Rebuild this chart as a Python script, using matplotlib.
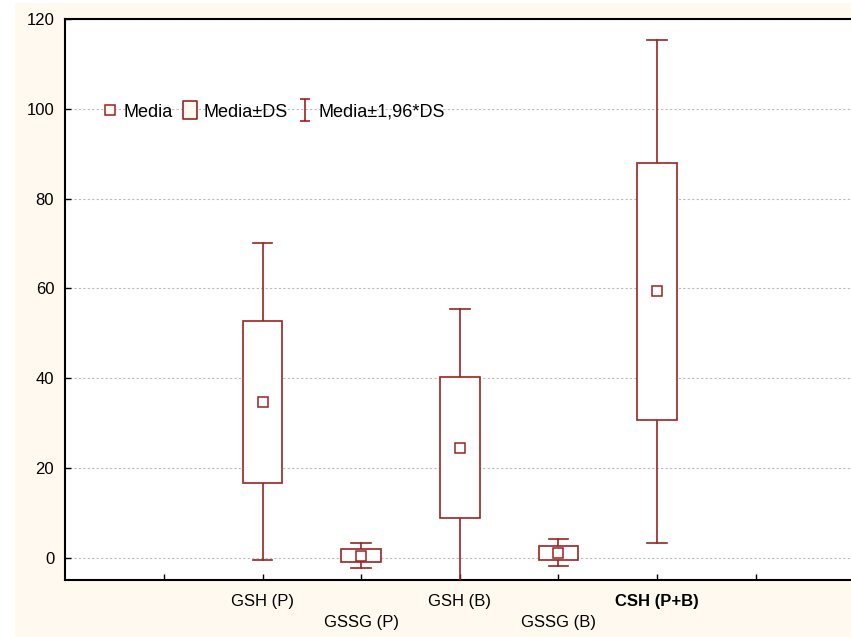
import numpy as np
import matplotlib.pyplot as plt
from matplotlib.path import Path
from matplotlib.lines import Line2D
from matplotlib.patches import Rectangle

plt.rcParams['font.family'] = ['Liberation Sans', 'DejaVu Sans']

# data (mean and standard deviation)
groups = ["GSH (P)", "GSSG (P)", "GSH (B)", "GSSG (B)", "CSH (P+B)"]
means = [34.7, 0.4, 24.5, 1.1, 59.3]
sds = [18.0, 1.4, 15.7, 1.55, 28.6]

red = "#9a2222"
cream = "#fff9ef"

fig = plt.figure(figsize=(8.51, 6.37), dpi=100, facecolor=cream)
# white strip on the left and top edge
fig.patches.append(Rectangle((0, 0), 15 / 851, 1, transform=fig.transFigure,
                             facecolor="white", edgecolor="none", zorder=-1))
fig.patches.append(Rectangle((0, 1 - 3 / 637), 1, 3 / 637, transform=fig.transFigure,
                             facecolor="white", edgecolor="none", zorder=-1))

ax = fig.add_axes([65.3 / 851, 1 - 580 / 637, 789 / 851, (580 - 19) / 637])
ax.set_facecolor("white")

pos = np.arange(2, 2 + len(groups))
bw = 0.4
cw = 0.2
for x, m, s in zip(pos, means, sds):
    lo, hi = m - 1.96 * s, m + 1.96 * s
    ax.plot([x, x], [lo, m - s], color=red, lw=1.2, zorder=3)
    ax.plot([x, x], [m + s, hi], color=red, lw=1.2, zorder=3)
    ax.plot([x - cw / 2, x + cw / 2], [lo, lo], color=red, lw=1.2, zorder=3)
    ax.plot([x - cw / 2, x + cw / 2], [hi, hi], color=red, lw=1.2, zorder=3)
    ax.add_patch(Rectangle((x - bw / 2, m - s), bw, 2 * s, facecolor="white",
                           edgecolor=red, lw=1.2, zorder=3))
    ax.plot(x, m, marker="s", ms=7, mfc="white", mec=red, mew=1.1, zorder=4)

ax.set_xlim(0, 8)
ax.set_ylim(-5, 120)
ax.set_yticks(range(0, 121, 20))
ax.set_xticks(range(1, 8))
labels = [""] + [g if i % 2 == 0 else "\n" + g for i, g in enumerate(groups)] + [""]
ax.set_xticklabels(labels, linespacing=1.55)
ax.get_xticklabels()[5].set_fontweight("bold")
ax.tick_params(axis="both", direction="in", length=4, width=1, labelsize=12, colors="black")
ax.tick_params(axis="x", pad=10)
ax.tick_params(axis="y", pad=8)
ax.yaxis.grid(True, linestyle=(0, (2, 2)), color="#bbbbbb", lw=0.8)
ax.set_axisbelow(True)
for side in ["left", "bottom", "top"]:
    ax.spines[side].set_linewidth(1.5)
ax.spines["right"].set_visible(False)

# legend symbols
ibar = Path([(-0.45, 1), (0.45, 1), (0, 1), (0, -1), (-0.45, -1), (0.45, -1)],
            [Path.MOVETO, Path.LINETO, Path.MOVETO, Path.LINETO, Path.MOVETO, Path.LINETO])
rect = Path([(-0.45, -0.55), (0.45, -0.55), (0.45, 0.55), (-0.45, 0.55), (-0.45, -0.55)],
            [Path.MOVETO, Path.LINETO, Path.LINETO, Path.LINETO, Path.CLOSEPOLY])
handles = [
    Line2D([], [], ls="none", marker="s", ms=7, mfc=cream, mec=red, mew=1.1),
    Line2D([], [], ls="none", marker=rect, ms=13, mfc=cream, mec=red, mew=1.2),
    Line2D([], [], ls="none", marker=ibar, ms=16, mec=red, mew=1.2),
]
ax.legend(handles, ["Media", "Media±DS", "Media±1,96*DS"], ncol=3, frameon=False,
          loc="center left", bbox_to_anchor=(0.026, 0.834), fontsize=13,
          handlelength=0.9, handletextpad=0.3, columnspacing=0.5)

fig.savefig("out.png", dpi=100, facecolor=cream)
